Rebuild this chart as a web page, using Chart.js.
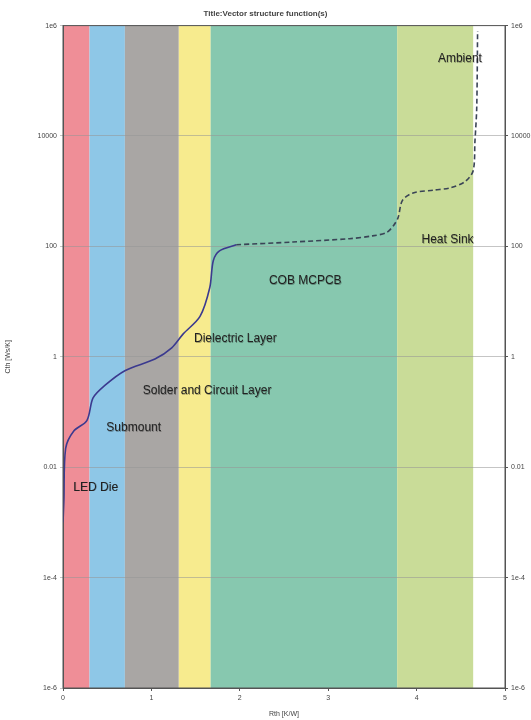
<!DOCTYPE html>
<html lang="en">
<head>
    <meta charset="UTF-8">
    <title>Structure function</title>
    <style>
        html, body { margin: 0; padding: 0; background: #fff; }
        #wrap { width: 531px; height: 720px; }
    </style>
</head>
<body>
    <div id="wrap"><canvas id="sfChart" width="531" height="720"></canvas></div>

    <script src="https://cdn.jsdelivr.net/npm/chart.js"></script>
    <script>
// layer bands along Rth
const bandNames = ['LED Die', 'Submount', 'Solder and Circuit Layer', 'Dielectric Layer', 'COB MCPCB', 'Heat Sink'];
const bandStart = [0, 0.30, 0.70, 1.31, 1.67, 3.78];
const bandEnd = [0.30, 0.70, 1.31, 1.67, 3.78, 4.64];
const bandColors = ['#ef8e97', '#8ec7e7', '#a9a6a4', '#f7eb8e', '#87c8af', '#c9dc98'];

// structure function: Rth [K/W] vs Cth [Ws/K]
const rthSolid = [0.00, 0.01, 0.03, 0.12, 0.27, 0.34, 0.47, 0.70, 1.04, 1.23, 1.36, 1.55, 1.66, 1.70, 1.77, 1.96];
const cthSolid = [1e-3, 2.5e-3, 0.022, 0.045, 0.07, 0.18, 0.30, 0.56, 0.91, 1.45, 2.6, 5.4, 17.8, 55, 83, 107];
const rthDashed = [1.96, 2.6, 3.24, 3.50, 3.66, 3.74, 3.79, 3.84, 3.96, 4.20, 4.38, 4.55, 4.64, 4.66, 4.68, 4.69];
const cthDashed = [107, 120, 138, 155, 178, 240, 330, 680, 930, 1050, 1150, 1500, 2350, 8000, 32000, 800000];

const yTicks = [1e-6, 1e-4, 0.01, 1, 100, 10000, 1e6];
const yTickLabels = ['1e-6', '1e-4', '0.01', '1', '100', '10000', '1e6'];

// layer label anchors in data space
const labelText = ['LED Die', 'Submount', 'Solder and Circuit Layer', 'Dielectric Layer', 'COB MCPCB', 'Heat Sink', 'Ambient'];
const labelRth = [0.37, 0.80, 1.63, 1.95, 2.74, 4.35, 4.49];
const labelCth = [0.0043, 0.051, 0.24, 2.1, 24, 132, 250000];

const ctx = document.getElementById('sfChart').getContext('2d');

const toPts = (xs, ys) => xs.map((x, i) => ({ x: x, y: ys[i] }));

const bandsPlugin = {
    id: 'bands',
    beforeDraw(chart) {
        const { ctx, chartArea, scales } = chart;
        ctx.save();
        bandStart.forEach((s, i) => {
            const x0 = scales.x.getPixelForValue(s);
            const x1 = scales.x.getPixelForValue(bandEnd[i]);
            ctx.fillStyle = bandColors[i];
            ctx.fillRect(x0, chartArea.top, x1 - x0, chartArea.bottom - chartArea.top);
        });
        ctx.restore();
    },
    afterDatasetsDraw(chart) {
        const { ctx, chartArea, scales } = chart;
        ctx.save();
        ctx.font = '12px "Liberation Sans", Arial, sans-serif';
        ctx.textAlign = 'center';
        ctx.textBaseline = 'middle';
        labelText.forEach((t, i) => {
            const px = scales.x.getPixelForValue(labelRth[i]);
            const py = scales.y.getPixelForValue(labelCth[i]);
            ctx.fillStyle = 'rgba(0,0,0,0.3)';
            ctx.fillText(t, px + 0.6, py + 0.6);
            ctx.fillStyle = '#222';
            ctx.fillText(t, px, py);
        });
        // frame
        ctx.strokeStyle = '#555';
        ctx.lineWidth = 1;
        ctx.strokeRect(chartArea.left, chartArea.top, chartArea.right - chartArea.left, chartArea.bottom - chartArea.top);
        ctx.restore();
    }
};

const tickFont = { family: '"Liberation Sans", Arial, sans-serif', size: 7 };

new Chart(ctx, {
    type: 'line',
    data: {
        datasets: [{
            label: 'solid',
            data: toPts(rthSolid, cthSolid),
            borderColor: '#3b3a8f',
            borderWidth: 1.6,
            pointRadius: 0,
            tension: 0.3,
            fill: false
        }, {
            label: 'dashed',
            data: toPts(rthDashed, cthDashed),
            borderColor: '#3a4456',
            borderWidth: 1.6,
            borderDash: [5, 3],
            pointRadius: 0,
            tension: 0.3,
            fill: false
        }]
    },
    options: {
        responsive: false,
        animation: false,
        layout: { padding: { top: 0, right: 0, bottom: 0, left: 0 } },
        plugins: {
            legend: { display: false },
            tooltip: { enabled: false },
            title: {
                display: true,
                text: 'Title:Vector structure function(s)',
                color: '#444',
                font: { family: '"Liberation Sans", Arial, sans-serif', size: 8 },
                padding: { top: 9, bottom: 7 }
            }
        },
        scales: {
            x: {
                type: 'linear',
                min: 0,
                max: 5,
                ticks: { stepSize: 1, color: '#444', font: tickFont, padding: 3 },
                grid: { drawOnChartArea: false, tickLength: 3, color: '#555' },
                border: { color: '#555' },
                title: { display: true, text: 'Rth [K/W]', color: '#444', font: tickFont, padding: { top: 2, bottom: 2 } },
                afterFit(scale) { scale.height = 32; }
            },
            y: {
                type: 'logarithmic',
                min: 1e-6,
                max: 1e6,
                afterBuildTicks(scale) { scale.ticks = yTicks.map(v => ({ value: v })); },
                ticks: {
                    color: '#444',
                    font: tickFont,
                    padding: 3,
                    callback: (v) => yTickLabels[yTicks.indexOf(v)] ?? ''
                },
                grid: { color: 'rgba(150,150,150,0.55)', tickLength: 3 },
                border: { color: '#555' },
                title: { display: true, text: 'Cth [Ws/K]', color: '#444', font: tickFont },
                afterFit(scale) { scale.width = 63; }
            },
            y2: {
                type: 'logarithmic',
                position: 'right',
                min: 1e-6,
                max: 1e6,
                afterBuildTicks(scale) { scale.ticks = yTicks.map(v => ({ value: v })); },
                ticks: {
                    color: '#444',
                    font: tickFont,
                    padding: 3,
                    callback: (v) => yTickLabels[yTicks.indexOf(v)] ?? ''
                },
                grid: { drawOnChartArea: false, tickLength: 3, color: '#555' },
                border: { color: '#555' },
                afterFit(scale) { scale.width = 26; }
            }
        }
    },
    plugins: [bandsPlugin]
});
    </script>
</body>
</html>
